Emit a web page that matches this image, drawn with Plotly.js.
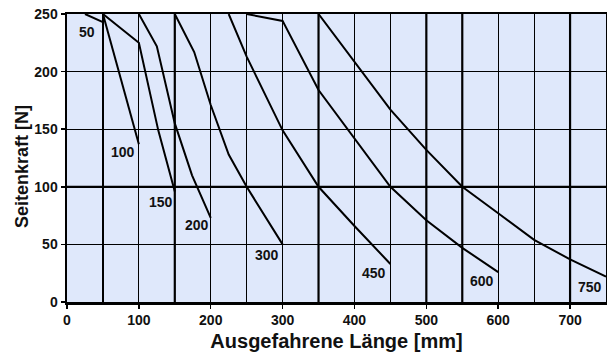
<!DOCTYPE html>
<html>
<head>
<meta charset="utf-8">
<script src="https://cdn.plot.ly/plotly-3.0.1.min.js"></script>
<style>html,body{margin:0;padding:0;background:#fff}#chart{width:607px;height:355px}</style>
</head>
<body>
<div id="chart"></div>
<script>
// Curve names (stroke length, mm)
const curveNames = ['50', '100', '150', '200', '300', '450', '600', '750'];
// Curve points: extended length [mm] and side force [N]
const x50 = [25, 50];                  const y50 = [250, 243];
const x100 = [50, 100];                const y100 = [250, 137];
const x150 = [50, 100, 127, 150];      const y150 = [250, 225, 149, 96];
const x200 = [100, 125, 150, 174, 200]; const y200 = [250, 222, 155, 110, 73];
const x300 = [150, 177, 200, 225, 250, 300]; const y300 = [250, 217, 171, 128, 100, 50];
const x450 = [225, 250, 300, 350, 400, 450]; const y450 = [250, 213, 149, 100, 66, 33];
const x600 = [250, 300, 350, 400, 450, 500, 550, 600]; const y600 = [250, 244, 184, 142, 100, 71, 47, 26];
const x750 = [350, 400, 450, 500, 550, 600, 650, 700, 750]; const y750 = [250, 209, 167, 132, 100, 77, 54, 37, 22];
// Label anchor points (data coords)
const labelX = [28, 78, 131, 181, 278, 427, 578, 728];
const labelY = [234, 130, 87, 67, 41, 25, 18, 13];
// Tick values
const xTicks = [0, 100, 200, 300, 400, 500, 600, 700];
const yTicks = [0, 50, 100, 150, 200, 250];
const thickX = [150, 350, 500, 550, 700];
const thickY = [100];

const xs = [x50, x100, x150, x200, x300, x450, x600, x750];
const ys = [y50, y100, y150, y200, y300, y450, y600, y750];

const FONT = 'Liberation Sans, Arial, sans-serif';

const traces = xs.map((x, i) => ({
  x: x, y: ys[i], type: 'scatter', mode: 'lines', name: curveNames[i],
  line: {color: '#000', width: 2}, hoverinfo: 'skip'
}));

const annotations = curveNames.map((n, i) => ({
  x: labelX[i], y: labelY[i], xref: 'x', yref: 'y', text: n, showarrow: false,
  font: {family: FONT, size: 14, color: '#111', weight: 'bold'}
}));
// y-axis title placed as rotated annotation
annotations.push({
  xref: 'paper', yref: 'paper', x: -0.0835, y: 0.472, xanchor: 'center', yanchor: 'middle',
  text: 'Seitenkraft [N]', textangle: -90, showarrow: false,
  font: {family: FONT, size: 18, color: '#111', weight: 'bold'}
});

const shapes = [];
thickX.forEach(v => shapes.push({type: 'line', xref: 'x', yref: 'paper', x0: v, x1: v, y0: 0, y1: 1, line: {color: '#000', width: 2.2}, layer: 'below'}));
thickY.forEach(v => shapes.push({type: 'line', xref: 'paper', yref: 'y', x0: 0, x1: 1, y0: v, y1: v, line: {color: '#000', width: 2.2}, layer: 'below'}));

const layout = {
  width: 607, height: 355,
  margin: {l: 67, r: 1, t: 14, b: 53},
  paper_bgcolor: '#fff', plot_bgcolor: '#dfe8fb',
  showlegend: false,
  xaxis: {
    range: [0, 750], tickvals: xTicks, ticktext: xTicks.map(String),
    showgrid: true, gridcolor: '#000', gridwidth: 1.2,
    minor: {dtick: 50, tick0: 0, showgrid: true, gridcolor: '#000', gridwidth: 1.2},
    showline: true, linecolor: '#000', linewidth: 2.5, mirror: true,
    ticks: 'outside', ticklen: 4, tickwidth: 1.5, tickcolor: '#000',
    zeroline: false,
    tickfont: {family: FONT, size: 14, color: '#111', weight: 'bold'},
    title: {text: 'Ausgefahrene Länge [mm]', standoff: 7,
      font: {family: FONT, size: 20, color: '#111', weight: 'bold'}}
  },
  yaxis: {
    range: [0, 250], tickvals: yTicks, ticktext: yTicks.map(String),
    showgrid: true, gridcolor: '#000', gridwidth: 1.2,
    showline: true, linecolor: '#000', linewidth: 2.5, mirror: true,
    ticks: 'outside', ticklen: 4, tickwidth: 1.5, tickcolor: '#000',
    zeroline: false,
    tickfont: {family: FONT, size: 14, color: '#111', weight: 'bold'}
  },
  annotations: annotations,
  shapes: shapes
};

Plotly.newPlot('chart', traces, layout, {staticPlot: true, displayModeBar: false});
</script>
</body>
</html>
